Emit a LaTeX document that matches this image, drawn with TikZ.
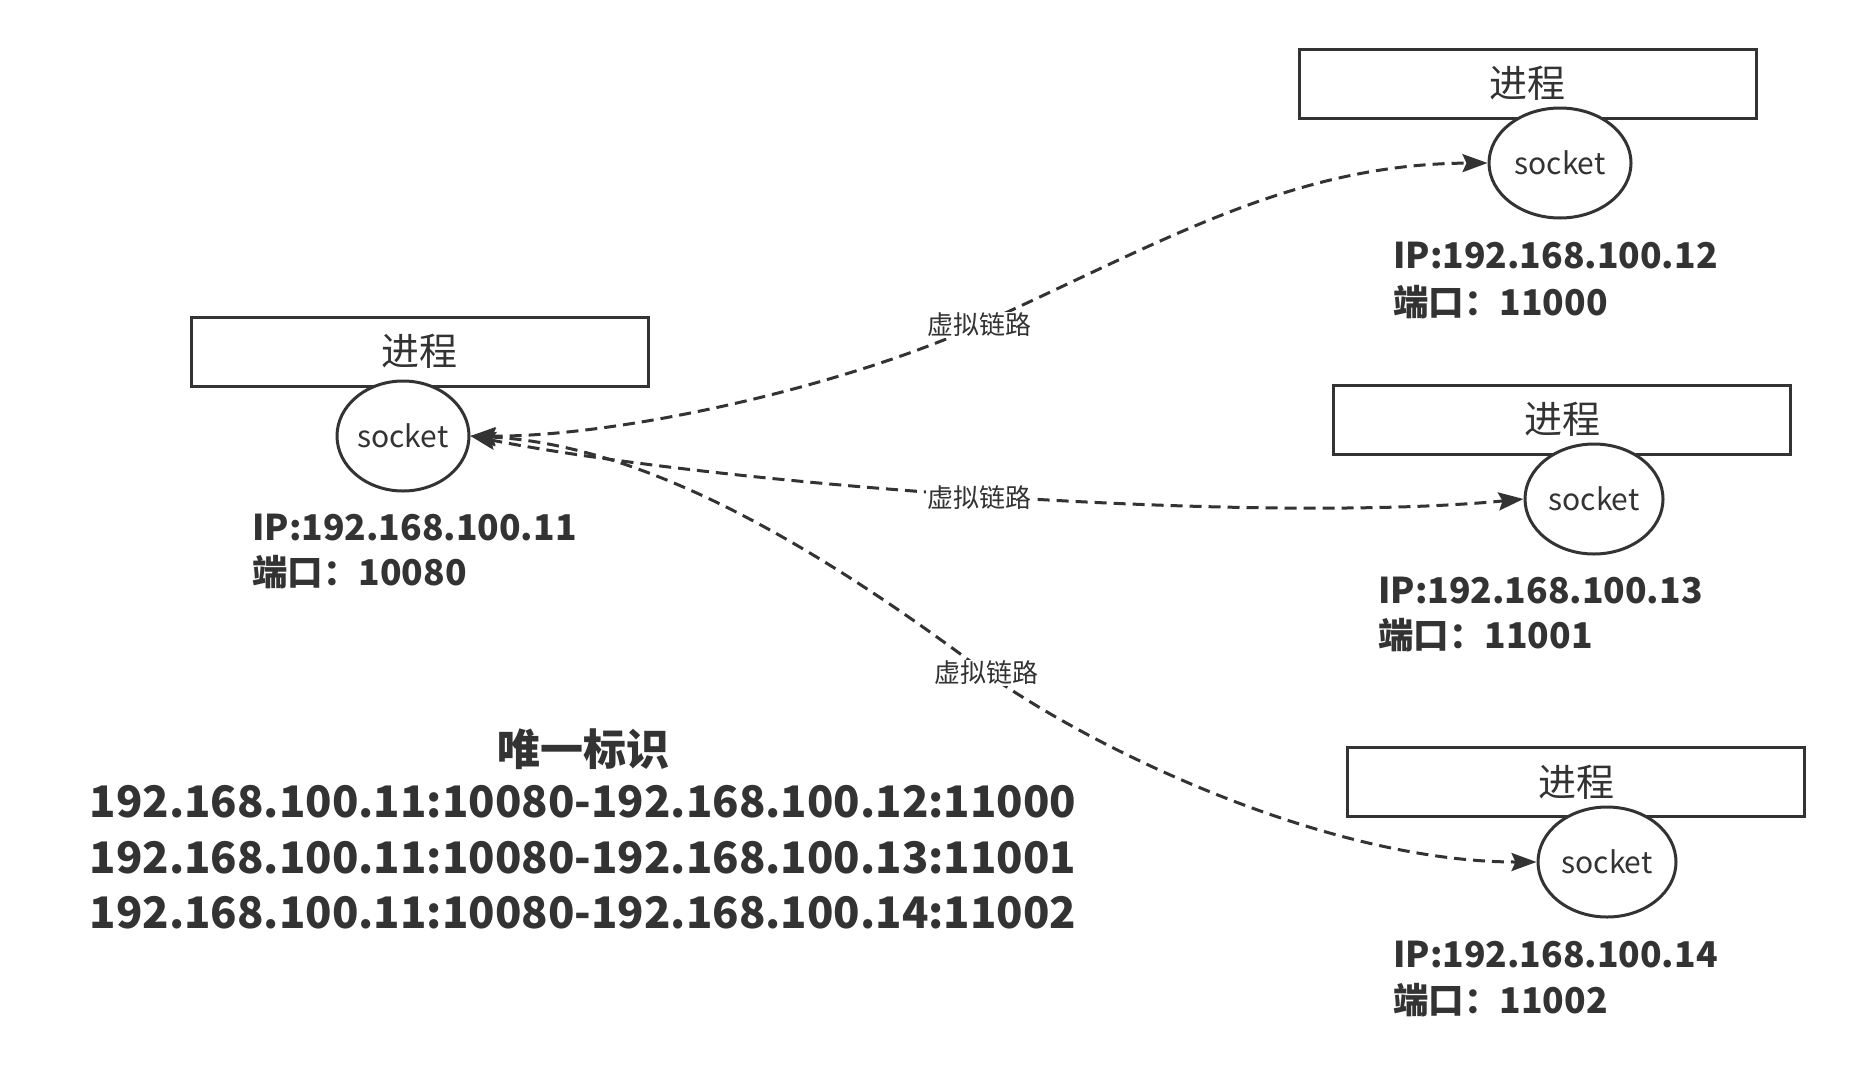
\documentclass[tikz,border=0pt]{standalone}
\usepackage{fontspec}
\setmainfont{Noto Sans CJK SC}
\usetikzlibrary{arrows.meta,shapes.geometric}
\definecolor{c33}{HTML}{333333}
\tikzset{
  procbox/.style={draw=c33, line width=3pt, fill=white, minimum width=457pt, minimum height=69pt, inner sep=0pt, text=c33, font=\fontsize{38}{44}\selectfont},
  sock/.style={ellipse, draw=c33, line width=3pt, fill=white, minimum width=138pt, minimum height=110pt, inner sep=0pt, text=c33, font=\fontsize{30}{36}\selectfont},
  info/.style={anchor=base west, inner sep=0pt, text=c33, font=\fontsize{35.5}{42}\selectfont\bfseries},
  big/.style={anchor=base, inner sep=0pt, text=c33, font=\fontsize{43.5}{50}\selectfont\bfseries},
  link/.style={draw=c33, line width=3pt, dash pattern=on 12pt off 7pt, >={Stealth[length=25pt,width=18pt,inset=4pt]}, <->},
  lbl/.style={fill=white, inner sep=1pt, text=c33, font=\fontsize{26}{30}\selectfont}
}
\newcommand{\socktext}{\raisebox{-3pt}{socket}}
\begin{document}
\begin{tikzpicture}[x=1pt,y=-1pt]
\useasboundingbox[fill=white] (0,0) rectangle (1854,1071);
% boxes
\node[procbox] (p0) at (419.5,351.5) {进程};
\node[procbox] (p1) at (1527.5,83.5) {进程};
\node[procbox] (p2) at (1562,419.5) {进程};
\node[procbox] (p3) at (1576,782) {进程};
% sockets
\node[sock, minimum width=132pt] (s0) at (403,436) {\socktext};
\node[sock, minimum width=142pt] (s1) at (1560,163) {\socktext};
\node[sock] (s2) at (1594,499) {\socktext};
\node[sock] (s3) at (1607,862) {\socktext};
% info texts
\node[info] (ip0) at (252,540) {IP:192.168.100.11};
\node[info] (pt0) at (252,585) {端口：10080};
\node[info] (ip1) at (1393,268) {IP:192.168.100.12};
\node[info] (pt1) at (1393,315) {端口：11000};
\node[info] (ip2) at (1378,603) {IP:192.168.100.13};
\node[info] (pt2) at (1378,648) {端口：11001};
\node[info] (ip3) at (1393,967) {IP:192.168.100.14};
\node[info] (pt3) at (1393,1013) {端口：11002};
% unique id
\node[big, font=\fontsize{43}{50}\selectfont\bfseries] (title) at (583,765) {唯一标识};
\node[big] (l1) at (583,817) {192.168.100.11:10080-192.168.100.12:11000};
\node[big] (l2) at (583,873) {192.168.100.11:10080-192.168.100.13:11001};
\node[big] (l3) at (583,928) {192.168.100.11:10080-192.168.100.14:11002};
% links
\coordinate (m1) at (979,325);
\coordinate (m2) at (979,498);
\coordinate (m3) at (986,673);
\draw[link] (s0.east) .. controls (620,437) and (842,387) .. (m1) .. controls (1161,243) and (1291,164) .. (s1.west);
\draw[link] (s0.east) .. controls (720,485) and (1250,525) .. (s2.west);
\draw[link] (s0.east) .. controls (650,445) and (826,553) .. (m3) .. controls (1109,759) and (1337,862) .. (s3.west);
\node[lbl] (k1) at (m1) {虚拟链路};
\node[lbl] (k2) at (m2) {虚拟链路};
\node[lbl] (k3) at (m3) {虚拟链路};
\end{tikzpicture}
\end{document}
